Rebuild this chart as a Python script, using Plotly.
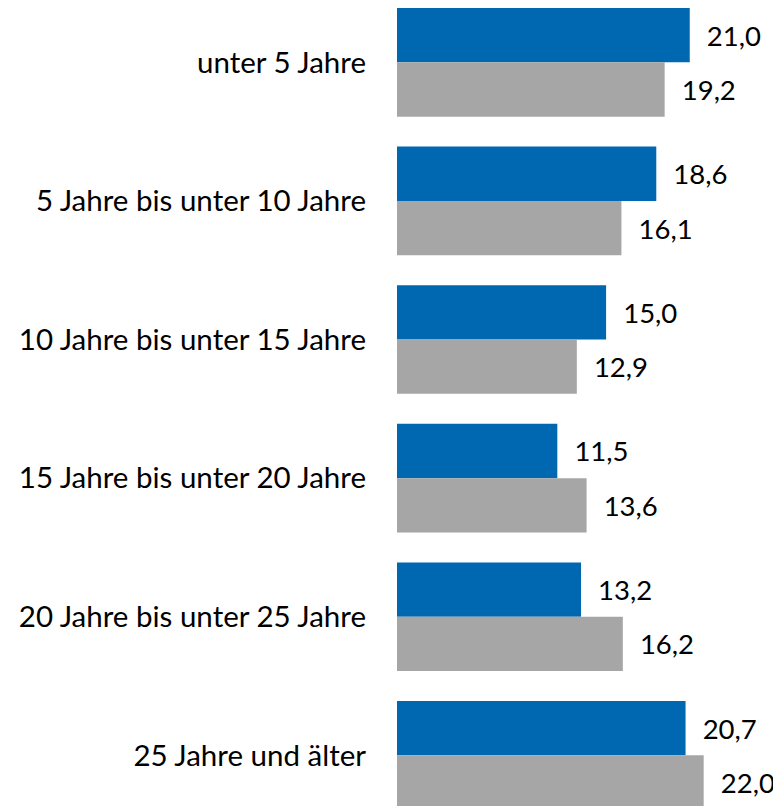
import plotly.graph_objects as go

categories = ["unter 5 Jahre", "5 Jahre bis unter 10 Jahre", "10 Jahre bis unter 15 Jahre",
              "15 Jahre bis unter 20 Jahre", "20 Jahre bis unter 25 Jahre", "25 Jahre und älter"]
series_a = [21.0, 18.6, 15.0, 11.5, 13.2, 20.7]
series_b = [19.2, 16.1, 12.9, 13.6, 16.2, 22.0]

FONT = "Lato"
tpl = "\u00a0\u00a0%{x:.1f}"
valfont = dict(family=FONT, size=27.5, color="black")

fig = go.Figure()
fig.add_trace(go.Bar(y=categories, x=series_a, orientation="h", marker_color="#0067B1",
                     marker_line_width=0, texttemplate=tpl, textposition="outside",
                     constraintext="none", cliponaxis=False, textfont=valfont))
fig.add_trace(go.Bar(y=categories, x=series_b, orientation="h", marker_color="#A6A6A6",
                     marker_line_width=0, texttemplate=tpl, textposition="outside",
                     constraintext="none", cliponaxis=False, textfont=valfont))

fig.update_layout(
    width=773, height=798, barmode="group", bargap=0.216, bargroupgap=0,
    margin=dict(l=389, r=0, t=0, b=0, autoexpand=False), showlegend=False,
    plot_bgcolor="white", paper_bgcolor="white", separators=",.",
    font=dict(family=FONT, size=27, color="black"),
)
fig.update_xaxes(range=[0, 384 / 13.94], visible=False)
fig.update_yaxes(type="category", range=[5.3655, -0.3921], showgrid=False, zeroline=False,
                 showline=False, ticks="", ticklabelstandoff=30, automargin=False,
                 tickfont=dict(family=FONT, size=29.5, color="black"))
fig.write_html("out.html")
